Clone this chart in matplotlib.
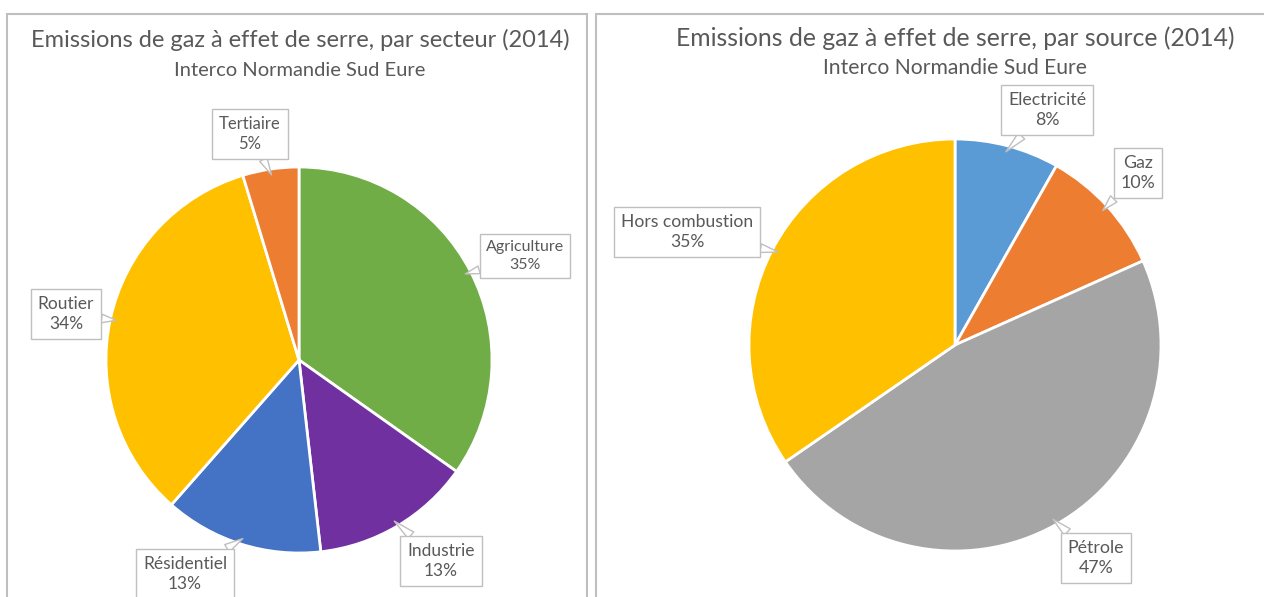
import numpy as np
import matplotlib.pyplot as plt
from matplotlib.patches import Rectangle

plt.rcParams['font.family'] = ['Lato', 'DejaVu Sans']

# --- data ---
secteurs = ['Agriculture', 'Industrie', 'Résidentiel', 'Routier', 'Tertiaire']
secteurs_val = [34.8, 13.4, 13.3, 33.8, 4.7]
secteurs_pct = ['35%', '13%', '13%', '34%', '5%']
secteurs_col = ['#70AD47', '#7030A0', '#4472C4', '#FFC000', '#ED7D31']

sources = ['Electricité', 'Gaz', 'Pétrole', 'Hors combustion']
sources_val = [8.2, 10.1, 47.1, 34.6]
sources_pct = ['8%', '10%', '47%', '35%']
sources_col = ['#5B9BD5', '#ED7D31', '#A5A5A5', '#FFC000']

W, H = 1264, 597
TXT = '#595959'
EDGE = '#BFBFBF'

fig = plt.figure(figsize=(W / 100, H / 100), dpi=100)
ax = fig.add_axes([0, 0, 1, 1])


def draw_pie(vals, cols, names, pcts, center, radius, label_pos, sizes):
    wedges, _ = ax.pie(vals, colors=cols, startangle=90, counterclock=False,
                       center=(center[0], H - center[1]), radius=radius,
                       wedgeprops=dict(edgecolor='white', linewidth=2))
    for w, name, pct, (lx, ly), fs in zip(wedges, names, pcts, label_pos, sizes):
        mid = np.deg2rad((w.theta1 + w.theta2) / 2)
        tip = (center[0] + radius * 0.97 * np.cos(mid),
               H - center[1] + radius * 0.97 * np.sin(mid))
        ax.annotate(name + '\n' + pct, xy=tip, xytext=(lx, H - ly),
                    ha='center', va='center', fontsize=fs, color=TXT,
                    linespacing=1.35,
                    bbox=dict(boxstyle='square,pad=0.4', fc='white', ec=EDGE, lw=1),
                    arrowprops=dict(arrowstyle='wedge,tail_width=0.5,shrink_factor=0.5',
                                    fc='white', ec=EDGE, lw=1, shrinkA=0, shrinkB=0),
                    zorder=5)


# panel frames
ax.add_patch(Rectangle((7, -5), 580, H - 14 + 5, fill=False, ec=EDGE, lw=1.5, clip_on=False))
ax.add_patch(Rectangle((596, -5), 680, H - 14 + 5, fill=False, ec=EDGE, lw=1.5, clip_on=False))

draw_pie(secteurs_val, secteurs_col, secteurs, secteurs_pct, (299, 360), 193,
         [(525, 256), (441, 561), (185, 574), (66, 314), (250, 134)],
         [11.5, 12.5, 12.5, 12.5, 12])
draw_pie(sources_val, sources_col, sources, sources_pct, (955, 345), 206,
         [(1047, 110), (1138, 173), (1096, 558), (687, 232)],
         [12.8, 12.8, 12.8, 12.6])

ax.text(300, H - 40, 'Emissions de gaz à effet de serre, par secteur (2014)',
        ha='center', va='center', fontsize=17, color=TXT)
ax.text(300, H - 70, 'Interco Normandie Sud Eure', ha='center', va='center',
        fontsize=14.5, color=TXT)
ax.text(955, H - 38, 'Emissions de gaz à effet de serre, par source (2014)',
        ha='center', va='center', fontsize=17.8, color=TXT)
ax.text(955, H - 68, 'Interco Normandie Sud Eure', ha='center', va='center',
        fontsize=15.2, color=TXT)

ax.set_xlim(0, W)
ax.set_ylim(0, H)
ax.set_aspect('auto')
ax.axis('off')

fig.savefig('out.png', dpi=100)
